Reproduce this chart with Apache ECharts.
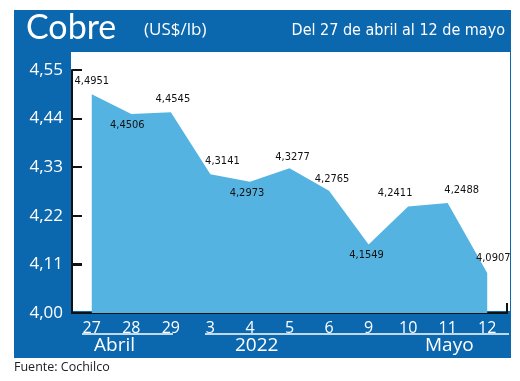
<!DOCTYPE html>
<html><head><meta charset="utf-8">
<script src="https://cdn.jsdelivr.net/npm/echarts@6/dist/echarts.min.js"></script>
<style>html,body{margin:0;padding:0;background:#fff}#c{width:520px;height:381px}</style>
</head><body><div id="c"></div>
<script>
const categories = ['27','28','29','3','4','5','6','9','10','11','12'];
const prices = [4.4951, 4.4506, 4.4545, 4.3141, 4.2973, 4.3277, 4.2765, 4.1549, 4.2411, 4.2488, 4.0907];
const yTicks = [4.00, 4.11, 4.22, 4.33, 4.44, 4.55];
const monthLabels = ['Abril', '2022', 'Mayo'];

// label placement (style only)
const labelPos = [
  {position:'top', offset:[0,-2]},
  {position:'bottom', offset:[-4,0]},
  {position:'top', offset:[2,-2]},
  {position:'top', offset:[12,-2]},
  {position:'bottom', offset:[-3,0]},
  {position:'top', offset:[3,0]},
  {position:'top', offset:[3,-1]},
  {position:'bottom', offset:[-2,0]},
  {position:'top', offset:[-13,-2]},
  {position:'top', offset:[14,-2]},
  {position:'top', offset:[6,-4]}
];

const BLUE = '#0b67ae';
const COND = '"DejaVu Sans Condensed", "Liberation Sans Narrow", Roboto, sans-serif';
const GRID = {left:72, right:13, top:70, bottom:68};
const Y_MIN = 4.00, Y_MAX = 4.55;
const chart = echarts.init(document.getElementById('c'));
const fmt = v => v.toFixed(4).replace('.', ',');

// y-axis tick marks (decoration) following the axis range
const plotH = 381 - GRID.top - GRID.bottom;
const tickRects = [];
for (let i = 0; i < yTicks.length; i++) {
  const y = Math.round(GRID.top + (Y_MAX - yTicks[i]) / (Y_MAX - Y_MIN) * plotH);
  tickRects.push({type:'rect', shape:{x:72, y:y - 1, width:10, height:2}, style:{fill:'#111'}});
}

chart.setOption({
  animation: false,
  graphic: [
    {id:'bg', type:'rect', z:-10, shape:{x:14,y:10,width:497,height:348}, style:{fill:BLUE}},
    {id:'plot', type:'rect', z:-9, shape:{x:71,y:52,width:439,height:259}, style:{fill:'#ffffff'}},
    {id:'rtick', type:'line', z:50, shape:{x1:507,y1:303,x2:507,y2:314}, style:{stroke:'#111',lineWidth:2}},
    {id:'tickgrp', type:'group', z:50, children: tickRects},
    {id:'u1', type:'line', z:50, shape:{x1:82,y1:334,x2:173,y2:334}, style:{stroke:'#ffffff',lineWidth:1.5}},
    {id:'u2', type:'line', z:50, shape:{x1:205,y1:334,x2:509,y2:334}, style:{stroke:'#ffffff',lineWidth:1.5}},
    {id:'t1', type:'text', z:50, left:26, top:11, style:{text:'Cobre', fill:'#fff', font:'34px Lato'}},
    {id:'t2', type:'text', z:50, left:144, top:22, style:{text:'(US$/lb)', fill:'#fff', font:'17px "Open Sans"'}},
    {id:'t3', type:'text', z:50, right:15, top:23, style:{text:'Del 27 de abril al 12 de mayo', fill:'#fff', font:'16px ' + COND, align:'right'}},
    {id:'m1', type:'text', z:50, left:94, top:336, style:{text:monthLabels[0], fill:'#fff', font:'19px "Open Sans"'}},
    {id:'m2', type:'text', z:50, left:235, top:336, style:{text:monthLabels[1], fill:'#fff', font:'19px "Open Sans"'}},
    {id:'m3', type:'text', z:50, left:425, top:336, style:{text:monthLabels[2], fill:'#fff', font:'19px "Open Sans"'}},
    {id:'src', type:'text', z:50, left:14, top:361, style:{text:'Fuente: Cochilco', fill:'#222', font:'12.5px "Open Sans"'}}
  ],
  grid: Object.assign({containLabel:false}, GRID),
  xAxis: {
    type:'category', data:categories, boundaryGap:true,
    axisLine:{show:true, lineStyle:{color:'#111', width:2}},
    axisTick:{show:false},
    axisLabel:{color:'#fff', fontSize:16, fontFamily:'Open Sans', margin:7, interval:0}
  },
  yAxis: {
    type:'value', min:Y_MIN, max:Y_MAX,
    splitLine:{show:false},
    axisLine:{show:true, lineStyle:{color:'#111', width:2}},
    axisTick:{show:true, inside:true, length:10, lineStyle:{color:'#111', width:2}, customValues:yTicks},
    axisLabel:{color:'#fff', fontSize:17, fontFamily:'Open Sans', margin:9, customValues:yTicks,
      formatter: v => v.toFixed(2).replace('.', ',')}
  },
  series: [{
    type:'line', data: prices.map((v,i)=>({value:v, label:labelPos[i]})),
    symbol:'circle', symbolSize:1, showSymbol:true,
    itemStyle:{color:'rgba(0,0,0,0)'},
    lineStyle:{width:0},
    areaStyle:{color:'#55b3e2', opacity:1},
    label:{show:true, color:'#111', fontSize:11, fontFamily:COND, formatter: p => fmt(p.value)},
    z:2
  }]
});
</script></body></html>
